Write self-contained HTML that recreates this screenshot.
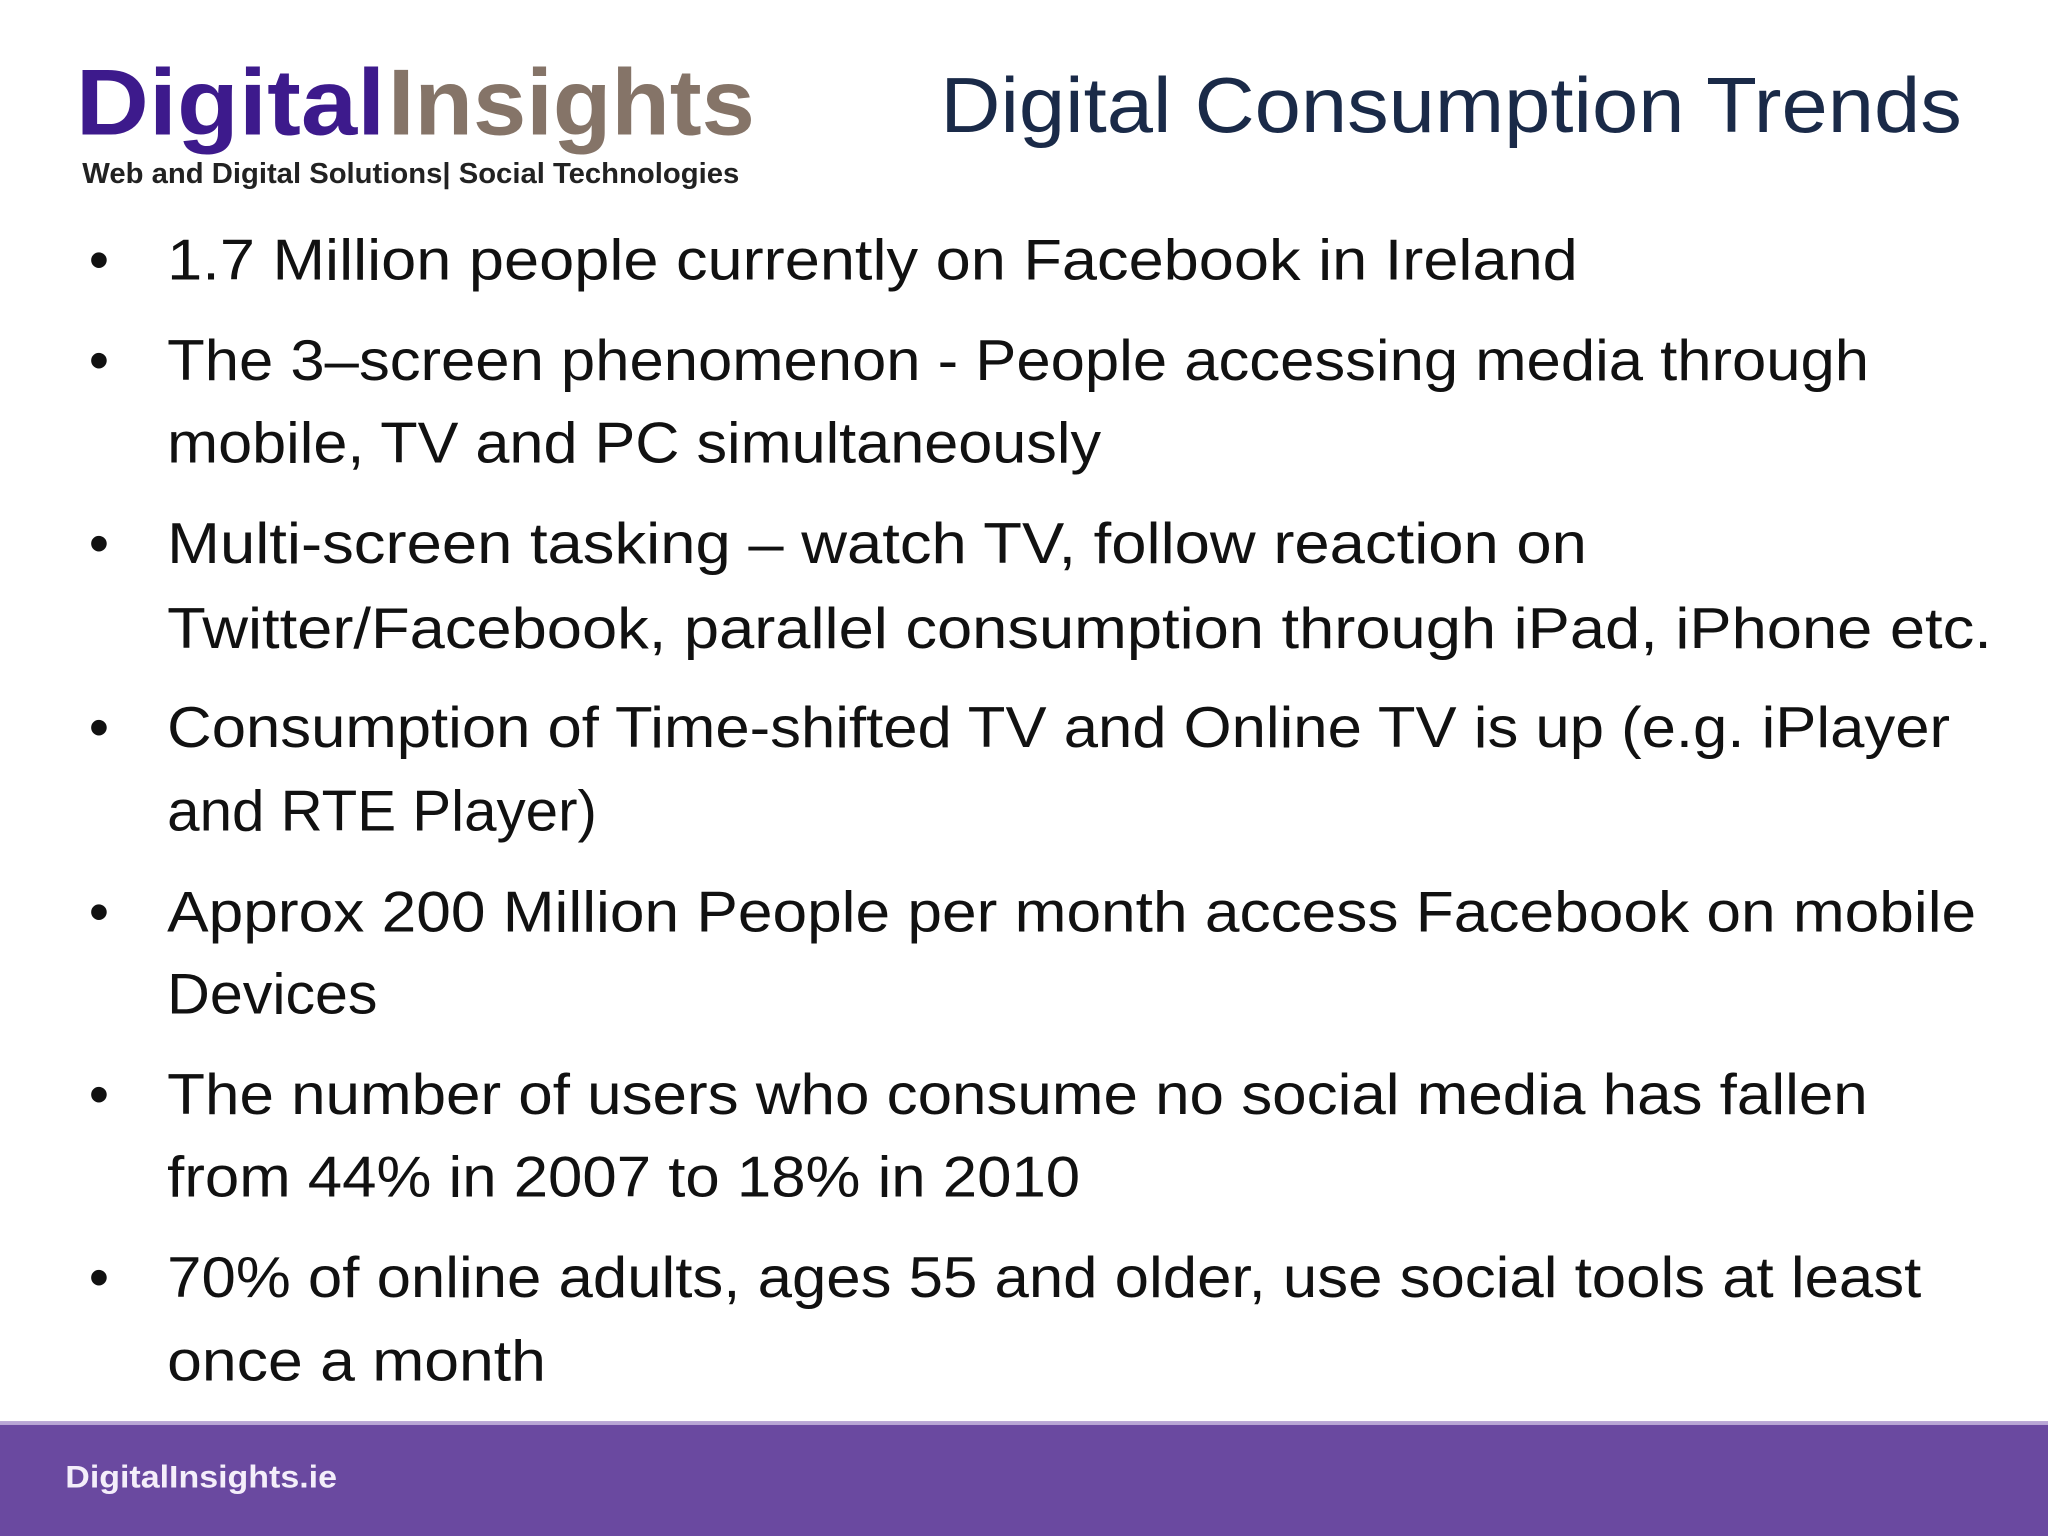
<!DOCTYPE html>
<html><head><meta charset="utf-8"><style>
html,body{margin:0;padding:0;background:#fff;}
svg{display:block;}
text{font-family:"Liberation Sans",sans-serif;}
</style></head><body>
<svg width="2048" height="1536" viewBox="0 0 1568 1176">
<rect x="0" y="0" width="1568" height="1176" fill="#ffffff"/>
<g>
<text x="58" y="103" font-size="72" font-weight="bold" fill="#3d1a8c" textLength="237" lengthAdjust="spacingAndGlyphs">Digital</text>
<text x="297" y="103" font-size="72" font-weight="bold" fill="#857468" textLength="281" lengthAdjust="spacingAndGlyphs">Insights</text>
<text x="63" y="140" font-size="22" font-weight="bold" fill="#222" textLength="503" lengthAdjust="spacingAndGlyphs">Web and Digital Solutions| Social Technologies</text>
</g>
<text x="720" y="101" font-size="60" fill="#1a2a48" textLength="782" lengthAdjust="spacingAndGlyphs">Digital Consumption Trends</text>
<g font-size="44" fill="#111">
<text x="68" y="214">•</text>
<text x="128" y="214" textLength="1080" lengthAdjust="spacingAndGlyphs">1.7 Million people currently on Facebook in Ireland</text>
<text x="68" y="291">•</text>
<text x="128" y="291" textLength="1303" lengthAdjust="spacingAndGlyphs">The 3–screen phenomenon - People accessing media through</text>
<text x="128" y="354" textLength="715" lengthAdjust="spacingAndGlyphs">mobile, TV and PC simultaneously</text>
<text x="68" y="431">•</text>
<text x="128" y="431" textLength="1087" lengthAdjust="spacingAndGlyphs">Multi-screen tasking – watch TV, follow reaction on</text>
<text x="128" y="496" textLength="1397" lengthAdjust="spacingAndGlyphs">Twitter/Facebook, parallel consumption through iPad, iPhone etc.</text>
<text x="68" y="572">•</text>
<text x="128" y="572" textLength="1365" lengthAdjust="spacingAndGlyphs">Consumption of Time-shifted TV and Online TV is up (e.g. iPlayer</text>
<text x="128" y="636" textLength="329" lengthAdjust="spacingAndGlyphs">and RTE Player)</text>
<text x="68" y="713">•</text>
<text x="128" y="713" textLength="1385" lengthAdjust="spacingAndGlyphs">Approx 200 Million People per month access Facebook on mobile</text>
<text x="128" y="776" textLength="161" lengthAdjust="spacingAndGlyphs">Devices</text>
<text x="68" y="853">•</text>
<text x="128" y="853" textLength="1302" lengthAdjust="spacingAndGlyphs">The number of users who consume no social media has fallen</text>
<text x="128" y="916" textLength="699" lengthAdjust="spacingAndGlyphs">from 44% in 2007 to 18% in 2010</text>
<text x="68" y="993">•</text>
<text x="128" y="993" textLength="1343" lengthAdjust="spacingAndGlyphs">70% of online adults, ages 55 and older, use social tools at least</text>
<text x="128" y="1057" textLength="290" lengthAdjust="spacingAndGlyphs">once a month</text>
</g>
<g>
<rect x="0" y="1088" width="1568" height="4" fill="#b9a6d6"/>
<rect x="0" y="1091" width="1568" height="85" fill="#6a49a0"/>
<text x="50" y="1139" font-size="24" font-weight="bold" fill="#f4eefa" textLength="208" lengthAdjust="spacingAndGlyphs">DigitalInsights.ie</text>
</g>
</svg>
</body></html>
